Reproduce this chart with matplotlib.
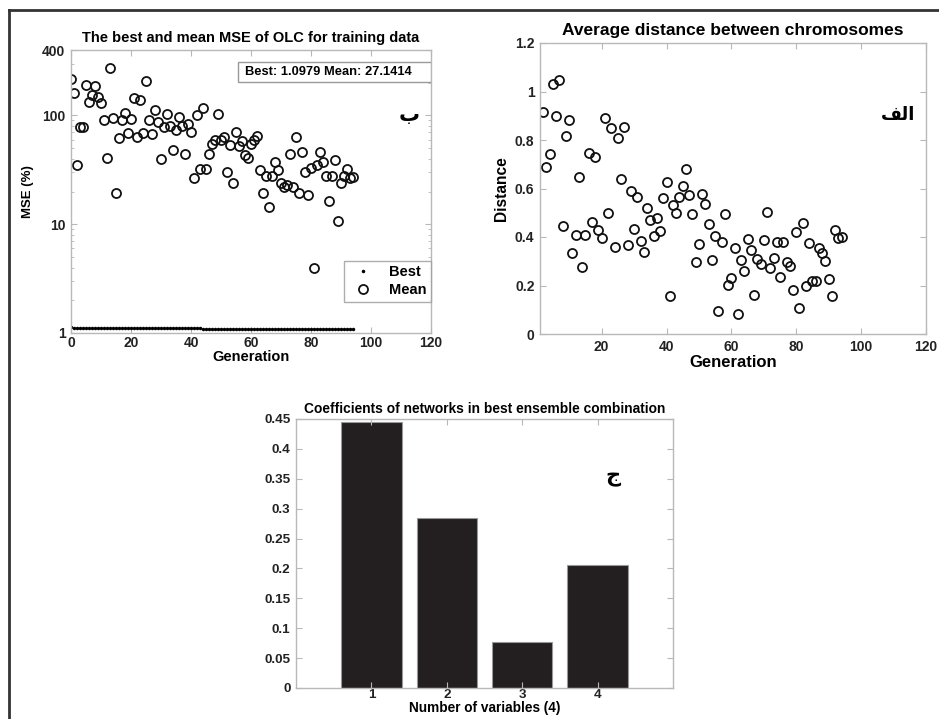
import matplotlib
matplotlib.use("Agg")
import matplotlib.pyplot as plt
from matplotlib.lines import Line2D
from matplotlib.patches import Rectangle
import numpy as np

# Daten
mean_mse = [215, 160, 35, 78, 79, 190, 133, 154, 187, 147,
            131, 90, 40.6, 272, 95, 19.4, 62, 90, 106, 69,
            93, 145, 64, 140, 69, 208, 90, 67, 113, 87,
            40, 78, 104, 80, 48, 73, 96, 80, 44, 83,
            70, 26.5, 100, 32.5, 117, 32.5, 44.5, 55, 60, 103,
            59, 64, 30, 54, 23.7, 71, 52, 58, 43, 41,
            55, 59, 65, 31.5, 19.2, 28, 14.5, 28, 37.5, 31.5,
            24, 21.8, 22.8, 44, 22.2, 64, 19.5, 46, 30, 18.7,
            33, 4.0, 35, 46, 37, 28, 16.5, 28, 39, 10.6,
            24, 28, 32.5, 26.5, 27.1414]
best_mse = [1.13,
            1.11, 1.11, 1.11, 1.11, 1.11, 1.11, 1.11, 1.11, 1.11, 1.11,
            1.11, 1.11, 1.11, 1.11, 1.11, 1.11, 1.11, 1.11, 1.11, 1.11,
            1.11, 1.11, 1.11, 1.11, 1.11, 1.11, 1.11, 1.11, 1.11, 1.11,
            1.11, 1.11, 1.11, 1.11, 1.11, 1.11, 1.11, 1.11, 1.11, 1.11,
            1.11, 1.11, 1.11,
            1.0979, 1.0979, 1.0979, 1.0979, 1.0979, 1.0979, 1.0979, 1.0979, 1.0979, 1.0979,
            1.0979, 1.0979, 1.0979, 1.0979, 1.0979, 1.0979, 1.0979, 1.0979, 1.0979, 1.0979,
            1.0979, 1.0979, 1.0979, 1.0979, 1.0979, 1.0979, 1.0979, 1.0979, 1.0979, 1.0979,
            1.0979, 1.0979, 1.0979, 1.0979, 1.0979, 1.0979, 1.0979, 1.0979, 1.0979, 1.0979,
            1.0979, 1.0979, 1.0979, 1.0979, 1.0979, 1.0979, 1.0979, 1.0979, 1.0979, 1.0979,
            1.0979]
gen_mse = np.arange(len(mean_mse))

distance = [0.915, 0.69, 0.742, 1.03, 0.90, 1.047, 0.444, 0.816, 0.882, 0.335,
            0.407, 0.647, 0.276, 0.408, 0.745, 0.46, 0.73, 0.429, 0.394, 0.891,
            0.498, 0.851, 0.36, 0.808, 0.639, 0.852, 0.366, 0.59, 0.434, 0.565,
            0.385, 0.338, 0.518, 0.47, 0.405, 0.477, 0.423, 0.562, 0.627, 0.155,
            0.533, 0.499, 0.565, 0.612, 0.68, 0.575, 0.496, 0.298, 0.371, 0.579,
            0.535, 0.454, 0.307, 0.403, 0.093, 0.379, 0.493, 0.203, 0.23, 0.353,
            0.084, 0.304, 0.261, 0.39, 0.348, 0.161, 0.308, 0.289, 0.386, 0.503,
            0.274, 0.313, 0.379, 0.236, 0.379, 0.297, 0.279, 0.18, 0.422, 0.109,
            0.459, 0.199, 0.375, 0.217, 0.217, 0.356, 0.334, 0.302, 0.227, 0.155,
            0.43, 0.397, 0.40]
gen_dist = np.arange(2, 2 + len(distance))

variables = [1, 2, 3, 4]
coefficients = [0.445, 0.285, 0.077, 0.206]

W, H = 939, 719
plt.rcParams['font.family'] = ['Liberation Sans', 'DejaVu Sans']
plt.rcParams['font.weight'] = 'bold'
plt.rcParams['axes.labelweight'] = 'bold'
plt.rcParams['axes.titleweight'] = 'bold'

fig = plt.figure(figsize=(W / 100, H / 100), dpi=100)
fig.patch.set_facecolor('white')


def box(l, t, r, b):
    return [l / W, 1 - b / H, (r - l) / W, (b - t) / H]


def style(ax, fs=10):
    for s in ax.spines.values():
        s.set_color('#b8b8b8')
        s.set_linewidth(1.0)
    ax.tick_params(direction='in', top=True, right=True, color='#b8b8b8',
                   labelsize=fs, labelcolor='#222222', length=4, pad=4)
    ax.tick_params(which='minor', direction='in', top=True, right=True,
                   color='#b8b8b8', length=2)


# Rahmen um die ganze Abbildung
fig.add_artist(Line2D([9 / W, 9 / W], [0, 1 - 10 / H], color='#333333', lw=2))
fig.add_artist(Line2D([9 / W, 1], [1 - 10 / H, 1 - 10 / H], color='#333333', lw=2))

# oben links: MSE
ax1 = fig.add_axes(box(71, 50, 431, 333))
ax1.plot(gen_mse, best_mse, '.', color='black', markersize=3, label='Best')
ax1.plot(gen_mse, mean_mse, 'o', mfc='none', mec='#111111', markersize=6.5,
         mew=1.3, label='Mean')
ax1.set_yscale('log')
ax1.set_xlim(0, 120)
ax1.set_ylim(1, 400)
ax1.set_yticks([1, 10, 100, 400])
ax1.set_yticklabels(['1', '10', '100', '400'])
ax1.set_xticks([0, 20, 40, 60, 80, 100, 120])
style(ax1, 10)
ax1.tick_params(axis='x', pad=2)
ax1.set_title('The best and mean MSE of OLC for training data', fontsize=10.5, pad=6)
ax1.set_xlabel('Generation', fontsize=10.5, labelpad=0)
ax1.set_ylabel('MSE (%)', fontsize=9.5, labelpad=6)
leg = ax1.legend(loc='lower right', bbox_to_anchor=(1.0, 0.11), fontsize=10.5,
                 fancybox=False, edgecolor='#999999', borderaxespad=0,
                 handletextpad=0.8, borderpad=0.3, labelspacing=0.3)
leg.get_frame().set_linewidth(1.0)
ax1.add_patch(Rectangle((0.464, 0.887), 0.536, 0.071, transform=ax1.transAxes,
                        fc='white', ec='#999999', lw=1, zorder=5))
ax1.text(0.714, 0.922, 'Best: 1.0979 Mean: 27.1414', transform=ax1.transAxes,
         ha='center', va='center', fontsize=9.3, zorder=6)

# oben rechts: Distanz
ax2 = fig.add_axes(box(540, 43, 926, 334))
ax2.plot(gen_dist, distance, 'o', mfc='none', mec='#111111', markersize=6.5, mew=1.3)
ax2.set_xlim(1, 120)
ax2.set_ylim(0, 1.2)
ax2.set_xticks([20, 40, 60, 80, 100, 120])
ax2.set_yticks([0, 0.2, 0.4, 0.6, 0.8, 1, 1.2])
ax2.set_yticklabels(['0', '0.2', '0.4', '0.6', '0.8', '1', '1.2'])
style(ax2, 10)
ax2.set_title('Average distance between chromosomes', fontsize=12.5, pad=6)
ax2.set_xlabel('Generation', fontsize=12, labelpad=1)
ax2.set_ylabel('Distance', fontsize=11.2, labelpad=4)

# unten: Balken
ax3 = fig.add_axes(box(296, 419, 673, 688))
ax3.bar(variables, coefficients, width=0.8, color='#231f20', edgecolor='#999999', lw=0.8)
ax3.set_xlim(0, 5)
ax3.set_ylim(0, 0.45)
ax3.set_xticks(variables)
ax3.set_yticks([0, 0.05, 0.1, 0.15, 0.2, 0.25, 0.3, 0.35, 0.4, 0.45])
ax3.set_yticklabels(['0', '0.05', '0.1', '0.15', '0.2', '0.25', '0.3', '0.35', '0.4', '0.45'])
style(ax3, 9.7)
ax3.tick_params(axis='x', pad=1)
ax3.set_title('Coefficients of networks in best ensemble combination', fontsize=9.9, pad=4)
ax3.set_xlabel('Number of variables (4)', fontsize=9.8, labelpad=0)

# arabische Buchstaben (Panel-Kennungen)
fig.text(409 / W, 1 - 115 / H, '\u0628', fontsize=15, ha='center', va='center',
         family=['DejaVu Sans'], weight='bold')
fig.text(898 / W, 1 - 115 / H, '\uFED2\uFEDF\uFE8D', fontsize=13, ha='center',
         va='center', family=['DejaVu Sans'], weight='bold')
fig.text(613 / W, 1 - 477 / H, '\u062C', fontsize=15, ha='center', va='center',
         family=['DejaVu Sans'], weight='bold')

fig.savefig('out.png', dpi=100)
